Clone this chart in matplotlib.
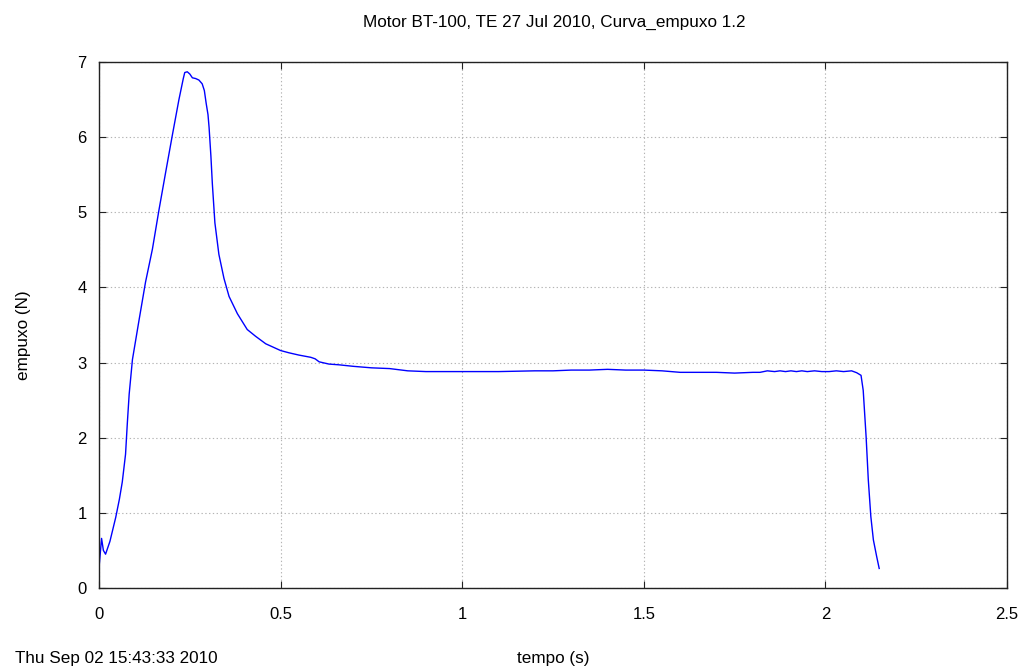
import matplotlib

matplotlib.use("Agg")
import matplotlib.pyplot as plt

plt.rcParams["font.family"] = ["Liberation Sans", "DejaVu Sans"]

# Thrust curve (time in s, thrust in N)
tempo = [
    0.000, 0.007, 0.012, 0.018, 0.030, 0.046, 0.056, 0.064, 0.073, 0.078,
    0.083, 0.092, 0.110, 0.128, 0.147, 0.165, 0.183, 0.202, 0.220, 0.232,
    0.236, 0.243, 0.250, 0.257, 0.266, 0.275, 0.284, 0.290, 0.295, 0.300,
    0.303, 0.308, 0.312, 0.319, 0.330, 0.344, 0.358, 0.381, 0.408, 0.431,
    0.459, 0.500, 0.523, 0.550, 0.583, 0.595, 0.606, 0.633, 0.661, 0.700,
    0.750, 0.800, 0.850, 0.900, 1.000, 1.100, 1.200, 1.250, 1.300, 1.350,
    1.400, 1.450, 1.500, 1.550, 1.600, 1.650, 1.700, 1.750, 1.800, 1.820,
    1.840, 1.860, 1.875, 1.890, 1.905, 1.920, 1.935, 1.950, 1.970, 1.990,
    2.010, 2.030, 2.050, 2.072, 2.086, 2.098, 2.104, 2.112, 2.118, 2.125,
    2.132, 2.141, 2.148,
]
empuxo = [
    0.27, 0.66, 0.50, 0.45, 0.62, 0.94, 1.18, 1.41, 1.78, 2.20,
    2.58, 3.04, 3.56, 4.07, 4.51, 5.03, 5.52, 6.03, 6.50, 6.78,
    6.86, 6.87, 6.84, 6.79, 6.78, 6.76, 6.71, 6.62, 6.45, 6.30,
    6.13, 5.75, 5.38, 4.86, 4.44, 4.12, 3.88, 3.65, 3.44, 3.35,
    3.25, 3.16, 3.13, 3.10, 3.07, 3.05, 3.01, 2.98, 2.97, 2.95,
    2.93, 2.92, 2.89, 2.88, 2.88, 2.88, 2.89, 2.89, 2.90, 2.90,
    2.91, 2.90, 2.90, 2.89, 2.87, 2.87, 2.87, 2.86, 2.87, 2.87,
    2.89, 2.88, 2.89, 2.88, 2.89, 2.88, 2.89, 2.88, 2.89, 2.88,
    2.88, 2.89, 2.88, 2.89, 2.865, 2.83, 2.63, 2.01, 1.44, 0.95,
    0.64, 0.42, 0.26,
]

x_ticks = [0, 0.5, 1, 1.5, 2, 2.5]
x_tick_labels = ["0", "0.5", "1", "1.5", "2", "2.5"]
y_ticks = [0, 1, 2, 3, 4, 5, 6, 7]

fig = plt.figure(figsize=(10.23, 6.69), dpi=100)
fig.patch.set_facecolor("white")
ax = fig.add_axes([0.0968, 0.1211, 0.8876, 0.7862])

ax.plot(tempo, empuxo, color="#0000ff", linewidth=1.0)

ax.set_xlim(0, 2.5)
ax.set_ylim(0, 7)
ax.set_xticks(x_ticks)
ax.set_xticklabels(x_tick_labels)
ax.set_yticks(y_ticks)
ax.tick_params(direction="in", top=True, right=True, length=5,
               labelsize=12, color="#222222")
ax.tick_params(axis="x", pad=14)
ax.tick_params(axis="y", pad=9)
ax.grid(True, linestyle=(0, (1.2, 2.2)), color="#b4b4b4", linewidth=0.8)
for spine in ax.spines.values():
    spine.set_color("#222222")
    spine.set_linewidth(1.0)

fig.text(0.5415, 0.967, "Motor BT-100, TE 27 Jul 2010, Curva_empuxo 1.2",
         ha="center", va="center", fontsize=12.3)
fig.text(0.5405, 0.0164, "tempo (s)", ha="center", va="center", fontsize=12.3)
fig.text(0.015, 0.0164, "Thu Sep 02 15:43:33 2010", ha="left", va="center",
         fontsize=12.3)
fig.text(0.0225, 0.499, "empuxo (N)", ha="center", va="center",
         rotation=90, fontsize=12.3)

fig.savefig("out.png", dpi=100, facecolor="white")
plt.close(fig)
